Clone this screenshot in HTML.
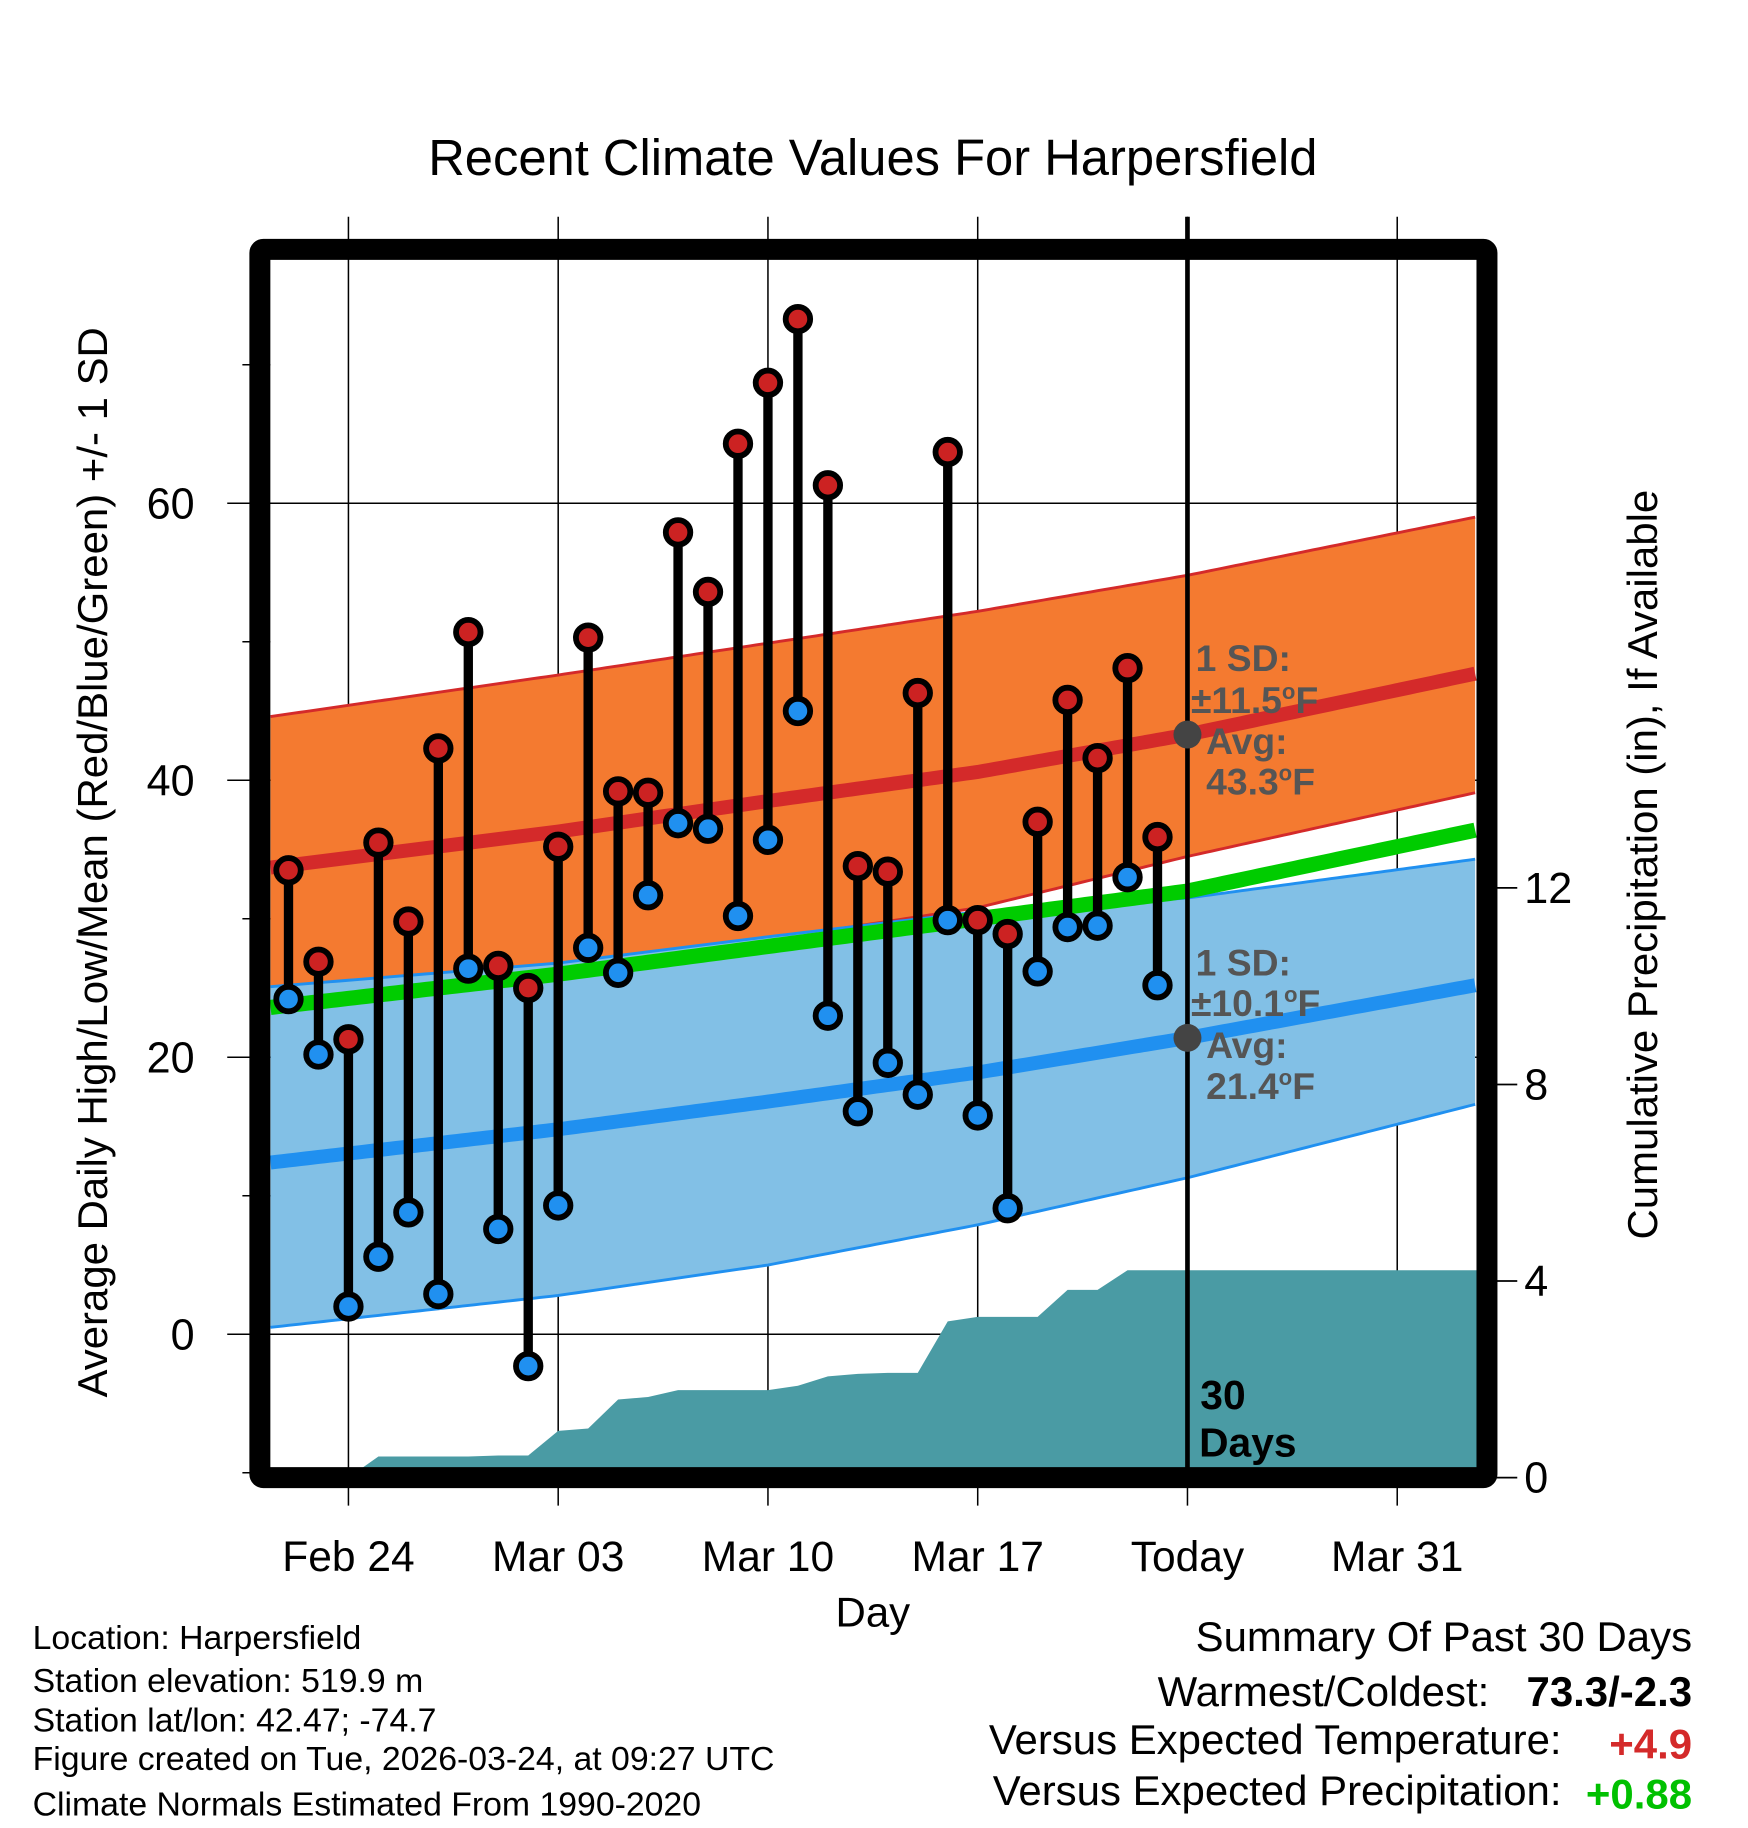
<!DOCTYPE html>
<html><head><meta charset="utf-8"><style>
html,body{margin:0;padding:0;background:#fff;}
svg{display:block;font-family:"Liberation Sans",Arial,sans-serif;}
</style></head><body>
<svg id="chart" width="1748" height="1828" viewBox="0 0 1500 1568.7" preserveAspectRatio="none" xmlns="http://www.w3.org/2000/svg">
<g id="layers"></g>
</svg>
<script>
const days = [-2,-1,0,1,2,3,4,5,6,7,8,9,10,11,12,13,14,15,16,17,18,19,20,21,22,23,24,25,26,27];
const highs = [33.5,26.9,21.3,35.5,29.8,42.3,50.7,26.6,25.0,35.2,50.3,39.2,39.1,57.9,53.6,64.3,68.7,73.3,61.3,33.8,33.4,46.3,63.7,29.9,28.9,37.0,45.8,41.6,48.1,35.9];
const lows = [24.2,20.2,2.0,5.6,8.8,2.9,26.4,7.6,-2.3,9.3,27.9,26.1,31.7,36.9,36.5,30.2,35.7,45.0,23.0,16.1,19.6,17.3,29.9,15.8,9.1,26.2,29.4,29.5,33.0,25.2];
const precip = [0,0,0,0.43,0.43,0.43,0.43,0.45,0.45,0.95,1.0,1.59,1.64,1.78,1.78,1.78,1.78,1.87,2.06,2.11,2.13,2.13,3.18,3.27,3.27,3.27,3.82,3.82,4.22,4.22];
const knotDays = [-2.6,7,14,21,28,37.6];
const hiMean = [33.7,36.3,38.5,40.6,43.3,47.7];
const hiUp = [44.6,47.6,49.9,52.2,54.8,59.0];
const hiLo = [23.0,26.5,28.5,30.8,34.5,39.1];
const meanNorm = [23.6,26.0,28.0,30.0,32.0,36.4];
const loMean = [12.4,14.8,16.8,18.9,21.4,25.2];
const loUp = [25.1,26.8,28.7,30.5,31.5,34.3];
const loLo = [0.5,2.8,5.0,7.9,11.3,16.6];
const xTickDays = [0,7,14,21,28,35];
const xTickLabels = ["Feb 24","Mar 03","Mar 10","Mar 17","Today","Mar 31"];
const yTicks = [0,20,40,60];
const yMinor = [-10,10,30,50,70];
const pTicks = [0,4,8,12];

const X = d => 299 + d*25.714;
const Y = v => 1145 - v*11.885;
const P = p => 1268 - p*42.17;
const L = 232, R = 1267, T = 223, B = 1262;
const NS = "http://www.w3.org/2000/svg";
const root = document.getElementById('layers');
function mk(tag, attrs, parent){const e=document.createElementNS(NS,tag);for(const k in attrs)e.setAttribute(k,attrs[k]);(parent||root).appendChild(e);return e;}
function interp(arr, d){
  if(d<=knotDays[0])return arr[0];
  for(let i=1;i<knotDays.length;i++){if(d<=knotDays[i]){const t=(d-knotDays[i-1])/(knotDays[i]-knotDays[i-1]);return arr[i-1]+t*(arr[i]-arr[i-1]);}}
  return arr[arr.length-1];
}
function curve(arr){const pts=[];for(let d=knotDays[0];d<=knotDays[knotDays.length-1]+0.001;d+=0.2){pts.push([X(d),Y(interp(arr,d))]);}return pts;}
function band(up,lo,fill,stroke,name){
  const a=curve(up),b=curve(lo).reverse();
  const g=mk('path',{d:'M'+a.map(p=>p.join(',')).join('L')+'L'+b.map(p=>p.join(',')).join('L')+'Z',fill:fill});
  
  
  [up,lo].forEach(arr=>{const l=mk('polyline',{points:curve(arr).map(p=>p.join(',')).join(' '),fill:'none',stroke:stroke,'stroke-width':2.5});
    
    });
}
xTickDays.forEach(d=>{const l=mk('line',{x1:X(d),x2:X(d),y1:186,y2:1292,stroke:'#000','stroke-width':1.3});
  
  });
yTicks.forEach(v=>{const l=mk('line',{x1:195,x2:R,y1:Y(v),y2:Y(v),stroke:'#000','stroke-width':1.3});
  
  });
yMinor.forEach(v=>{const l=mk('line',{x1:208,x2:L,y1:Y(v),y2:Y(v),stroke:'#000','stroke-width':1.3});
  
  });
band(hiUp,hiLo,'#F47A30','#D42A2A','high-sd-band');
band(loUp,loLo,'#82C0E6','#2090F0','low-sd-band');
function line(arr,color,w,name){const l=mk('polyline',{points:curve(arr).map(p=>p.join(',')).join(' '),fill:'none',stroke:color,'stroke-width':w});
  
  }
line(meanNorm,'#00CC00',13,'normal-mean-line');
line(hiMean,'#D42A2A',12,'normal-high-line');
line(loMean,'#2090F0',12,'normal-low-line');
(function(){let pts=[[X(days[2]),P(0)]];for(let i=2;i<days.length;i++)pts.push([X(days[i]),P(precip[i])]);pts.push([R+4,P(precip[precip.length-1])]);pts.push([R+4,P(0)+4]);pts.push([X(days[2]),P(0)+4]);
  const a=mk('polygon',{points:pts.map(p=>p.join(',')).join(' '),fill:'#4A9BA4'});
  
  })();
const tl=mk('line',{x1:X(28),x2:X(28),y1:186,y2:1268,stroke:'#000','stroke-width':4});


[[43.3,'today-high-avg-dot'],[21.4,'today-low-avg-dot']].forEach(([v,n])=>{const c=mk('circle',{cx:X(28),cy:Y(v),r:12,fill:'#444'});
  
  });
days.forEach((d,i)=>{const s=mk('line',{x1:X(d),x2:X(d),y1:Y(highs[i]),y2:Y(lows[i]),stroke:'#000','stroke-width':8});
  
  });
days.forEach((d,i)=>{
  const h=mk('circle',{cx:X(d),cy:Y(highs[i]),r:10.5,fill:'#CC2222',stroke:'#000','stroke-width':5});
  
  
  const l=mk('circle',{cx:X(d),cy:Y(lows[i]),r:10.5,fill:'#2090F0',stroke:'#000','stroke-width':5});
  
  
});
const fr=mk('rect',{x:223,y:214,width:1053,height:1054,fill:'none',stroke:'#000','stroke-width':18,rx:3});


pTicks.forEach(p=>{const l=mk('line',{x1:1276,x2:1302,y1:P(p),y2:P(p),stroke:'#000','stroke-width':1.5});
  
  
  const t=mk('text',{x:1308,y:P(p)+13,'font-size':37});t.textContent=String(p);
  
  });
yTicks.forEach(v=>{const t=mk('text',{x:167,y:Y(v)+13,'font-size':37,'text-anchor':'end'});t.textContent=String(v);
  
  });
xTickDays.forEach((d,i)=>{const t=mk('text',{x:X(d),y:1348,'font-size':36.5,'text-anchor':'middle'});t.textContent=xTickLabels[i];
  
  });
</script>
<script>
(function(){
const NS="http://www.w3.org/2000/svg";const root=document.getElementById('layers');
function txt(x,y,s,str,opts){const t=document.createElementNS(NS,'text');t.setAttribute('x',x);t.setAttribute('y',y);t.setAttribute('font-size',s);for(const k in (opts||{}))t.setAttribute(k,opts[k]);t.textContent=str;root.appendChild(t);return t;}
let t;
t=txt(749,150,43.5,'Recent Climate Values For Harpersfield',{'text-anchor':'middle'});


t=txt(0,0,36,'Average Daily High/Low/Mean (Red/Blue/Green) +/- 1 SD',{'text-anchor':'middle',transform:'translate(92,740) rotate(-90)'});


t=txt(0,0,36,'Cumulative Precipitation (in), If Available',{'text-anchor':'middle',transform:'translate(1422,742) rotate(-90)'});


t=txt(749,1396,36,'Day',{'text-anchor':'middle'});


const g={fill:'#555','font-weight':'bold'};
[['1 SD:',1026,576],['±11.5°F',1022,612],['Avg:',1035,647],['43.3°F',1035,682],['1 SD:',1026,837],['±10.1°F',1022,872],['Avg:',1035,908],['21.4°F',1035,943]].forEach(a=>{
 const e=txt(a[1],a[2],32,a[0].replace('°',''),g);
 if(a[0].indexOf('°')>=0){e.textContent='';const parts=a[0].split('°');e.appendChild(document.createTextNode(parts[0]));const sp=document.createElementNS(NS,'tspan');sp.setAttribute('dy','-12');sp.setAttribute('font-size','19');sp.textContent='o';e.appendChild(sp);const sp2=document.createElementNS(NS,'tspan');sp2.setAttribute('dy','12');sp2.textContent=parts[1];e.appendChild(sp2);}
 
 
});
t=txt(1030,1209,35,'30',{'font-weight':'bold'});


t=txt(1029,1250,35,'Days',{'font-weight':'bold'});


[['Location: Harpersfield',1415],['Station elevation: 519.9 m',1452],['Station lat/lon: 42.47; -74.7',1486],['Figure created on Tue, 2026-03-24, at 09:27 UTC',1519],['Climate Normals Estimated From 1990-2020',1558]].forEach(a=>{
 const e=txt(28,a[1],29,a[0]);
 
 });
t=txt(1452,1417,36,'Summary Of Past 30 Days',{'text-anchor':'end'});


t=txt(1278,1464,36,'Warmest/Coldest:',{'text-anchor':'end'});


t=txt(1452,1464,36,'73.3/-2.3',{'text-anchor':'end','font-weight':'bold'});


t=txt(1340,1505,36,'Versus Expected Temperature:',{'text-anchor':'end'});


t=txt(1452,1509,36,'+4.9',{'text-anchor':'end','font-weight':'bold',fill:'#D42A2A'});


t=txt(1340,1549,36,'Versus Expected Precipitation:',{'text-anchor':'end'});


t=txt(1452,1552,36,'+0.88',{'text-anchor':'end','font-weight':'bold',fill:'#00C000'});


})();
</script>
</body></html>
